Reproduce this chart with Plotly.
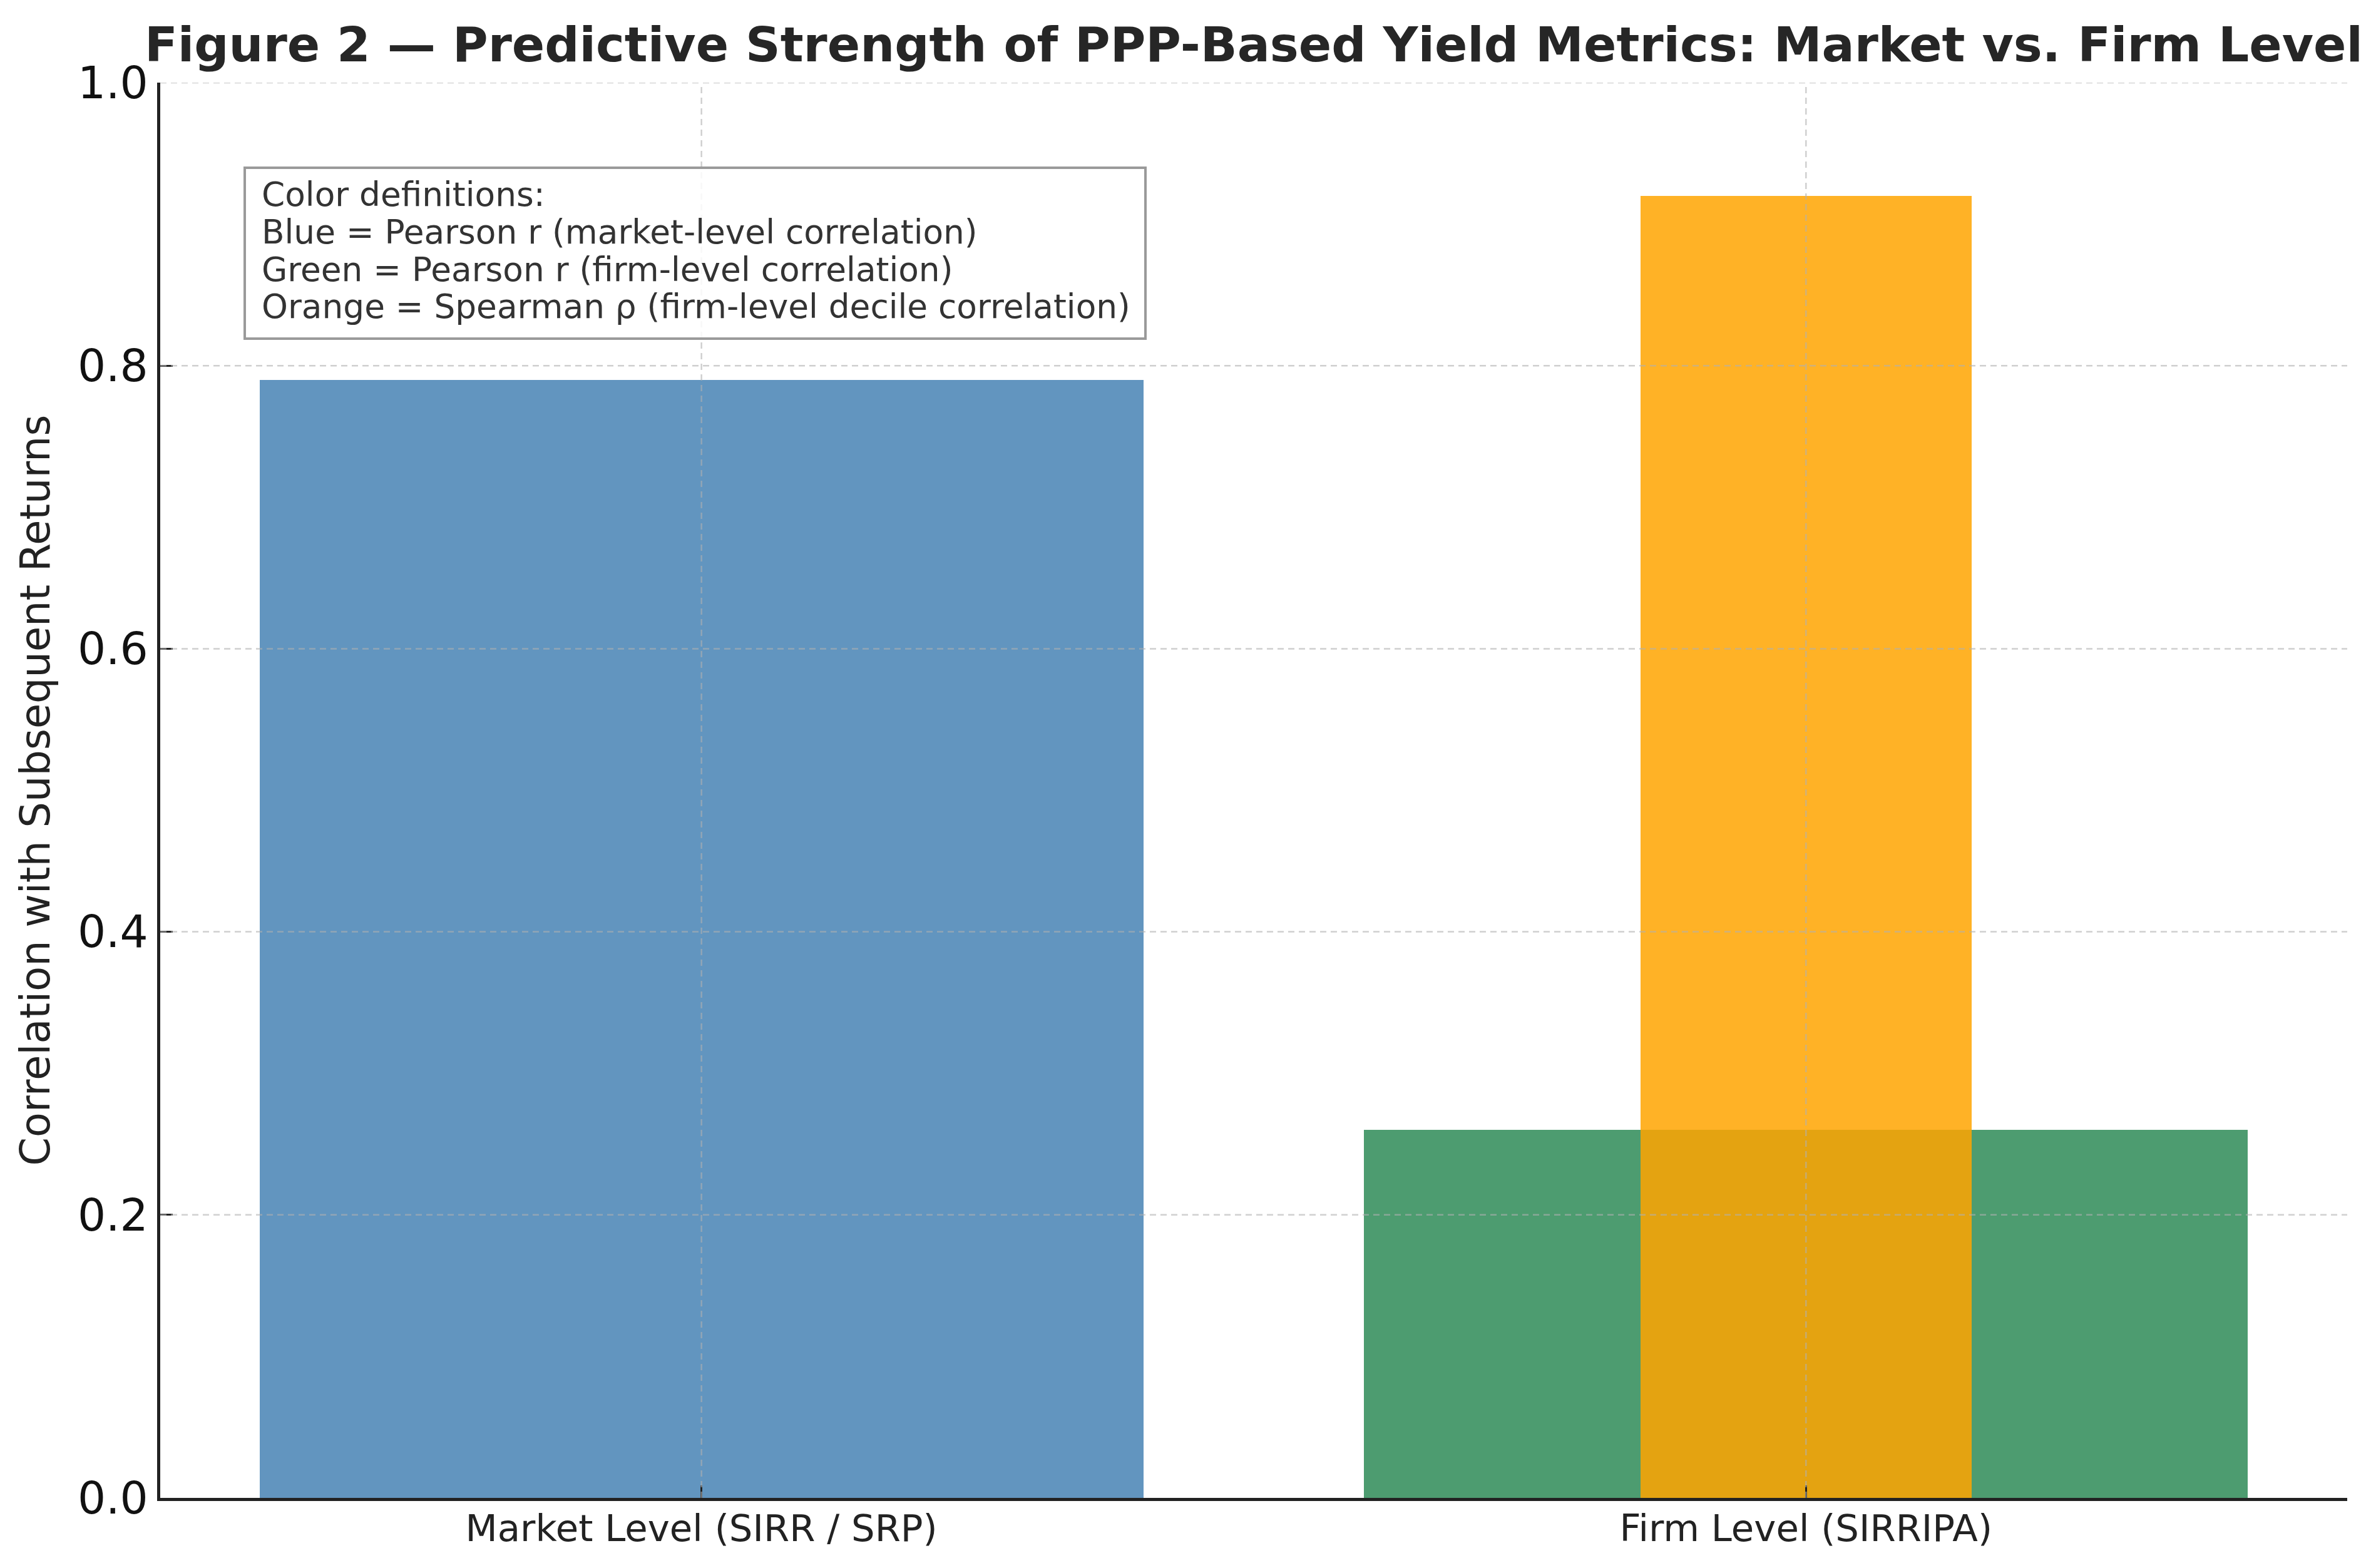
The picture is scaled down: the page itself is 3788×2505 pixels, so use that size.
import plotly.graph_objects as go

# ---- data ----
categories = ["Market Level (SIRR / SRP)", "Firm Level (SIRRIPA)"]
market_pearson = [0.79]          # blue
firm_pearson = [0.26]            # green
firm_spearman = [0.92]           # orange
y_ticks = [0.0, 0.2, 0.4, 0.6, 0.8, 1.0]
legend_lines = [
    "Color definitions:",
    "Blue = Pearson r (market-level correlation)",
    "Green = Pearson r (firm-level correlation)",
    "Orange = Spearman ρ (firm-level decile correlation)",
]
title_text = "Figure 2 — Predictive Strength of PPP-Based Yield Metrics: Market vs. Firm Level"
y_title = "Correlation with Subsequent Returns"

W, H = 3788, 2505
L, R, T, B = 256, 38, 132, 112
pw, ph = W - L - R, H - T - B
FONT = "DejaVu Sans"

def px_x(p):
    return (p - L) / pw

def px_y(p):
    return (H - B - p) / ph

fig = go.Figure()
fig.add_trace(go.Bar(x=[categories[0]], y=market_pearson, width=0.8,
                     marker=dict(color="steelblue", line=dict(width=0)), opacity=0.85))
fig.add_trace(go.Bar(x=[categories[1]], y=firm_pearson, width=0.8,
                     marker=dict(color="seagreen", line=dict(width=0)), opacity=0.85))
fig.add_trace(go.Bar(x=[categories[1]], y=firm_spearman, width=0.3,
                     marker=dict(color="orange", line=dict(width=0)), opacity=0.85))

grid = dict(color="rgba(176,176,176,0.6)", width=2.5, dash="10px,7px")
shapes = []
for v in y_ticks[1:]:
    shapes.append(dict(type="line", xref="paper", yref="y", x0=0, x1=1, y0=v, y1=v,
                       line=grid, layer="above"))
for c in categories:
    shapes.append(dict(type="line", xref="x", yref="paper", x0=c, x1=c, y0=0, y1=1,
                       line=grid, layer="above"))
# text box
shapes.append(dict(type="rect", xref="paper", yref="paper",
                   x0=px_x(391), x1=px_x(1830), y0=px_y(541), y1=px_y(268),
                   line=dict(color="#9a9a9a", width=4), fillcolor="rgba(255,255,255,0.85)",
                   layer="above"))

annotations = []
line_centers = [311, 371, 431, 490]
for txt, yc in zip(legend_lines, line_centers):
    annotations.append(dict(text=txt, xref="paper", yref="paper", x=px_x(416), y=px_y(yc),
                            xanchor="left", yanchor="middle", showarrow=False,
                            font=dict(family=FONT, size=53.3, color="#333333")))

fig.update_layout(
    width=W, height=H,
    margin=dict(l=L, r=R, t=T, b=B, autoexpand=False),
    paper_bgcolor="white", plot_bgcolor="white",
    barmode="overlay", showlegend=False,
    bargap=0,
    title=dict(text="<b>" + title_text + "</b>", x=0.5, xref="paper", xanchor="center",
               y=1 - 71 / H, yref="container", yanchor="middle",
               font=dict(family=FONT, size=77.3, color="#262626")),
    shapes=shapes, annotations=annotations,
    font=dict(family=FONT),
)
fig.update_xaxes(
    type="category", categoryorder="array", categoryarray=categories,
    range=[-0.49, 1.49], showgrid=False, zeroline=False,
    showline=True, linecolor="#222222", linewidth=5,
    ticks="inside", ticklen=20, tickwidth=3, tickcolor="#222222",
    tickfont=dict(family=FONT, size=59.3, color="#222222"),
    ticklabelstandoff=-7,
    layer="above traces", automargin=False,
)
fig.update_yaxes(
    range=[0, 1.0], tickvals=y_ticks, tickformat=".1f",
    showgrid=False, zeroline=False,
    showline=True, linecolor="#222222", linewidth=5,
    ticks="inside", ticklen=20, tickwidth=3, tickcolor="#222222",
    tickfont=dict(family=FONT, size=71, color="#111111"),
    title=dict(text=y_title, font=dict(family=FONT, size=65.3, color="#222222"), standoff=25),
    layer="above traces", automargin=False,
)

fig.write_html("out.html", config={"displayModeBar": False},
               post_script="document.body.style.margin='0';")
